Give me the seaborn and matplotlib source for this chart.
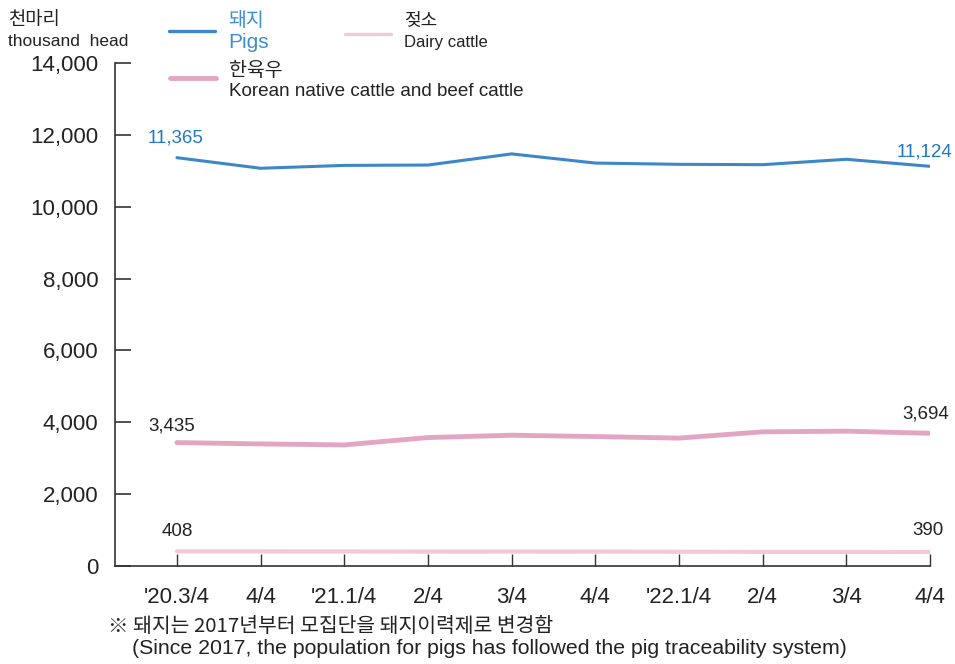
import numpy as np
import pandas as pd
import matplotlib
matplotlib.use("Agg")
import matplotlib.pyplot as plt
import seaborn as sns

# quarters and head counts (thousand head)
quarters = ["'20.3/4", "4/4", "'21.1/4", "2/4", "3/4", "4/4", "'22.1/4", "2/4", "3/4", "4/4"]
pigs = [11365, 11070, 11150, 11160, 11470, 11215, 11180, 11170, 11320, 11124]
hanwoo = [3435, 3398, 3370, 3575, 3640, 3603, 3560, 3734, 3753, 3694]
dairy = [408, 407, 405, 400, 401, 400, 398, 393, 392, 390]

pos = np.arange(len(quarters))
df = pd.DataFrame({"pos": pos, "pigs": pigs, "hanwoo": hanwoo, "dairy": dairy})

sns.set_style("white")
narrow = ["Liberation Sans Narrow", "Liberation Sans", "DejaVu Sans"]
kr = ["Noto Sans CJK KR", "DejaVu Sans"]
plt.rcParams["font.family"] = narrow

pig_c = "#3d87c8"
hanwoo_c = "#e3a6c2"
dairy_c = "#f2c9d8"
dark = "#222222"

fig = plt.figure(figsize=(9.55, 6.64), dpi=100)
ax = fig.add_axes([115 / 955, 98 / 664, 815 / 955, 503 / 664])

sns.lineplot(data=df, x="pos", y="pigs", ax=ax, color=pig_c, linewidth=2.2)
sns.lineplot(data=df, x="pos", y="hanwoo", ax=ax, color=hanwoo_c, linewidth=3.5)
sns.lineplot(data=df, x="pos", y="dairy", ax=ax, color=dairy_c, linewidth=3.0)

ax.set_xlim(-0.74, 9.0)
ax.set_ylim(0, 14000)
ax.set_xticks(pos)
ax.set_xticklabels(quarters)
ax.set_yticks(np.arange(0, 14001, 2000))
ax.set_yticklabels([f"{v:,}" for v in range(0, 14001, 2000)])
ax.set_xlabel("")
ax.set_ylabel("")
for s in ["top", "right"]:
    ax.spines[s].set_visible(False)
for s in ["left", "bottom"]:
    ax.spines[s].set_color("#333333")
    ax.spines[s].set_linewidth(1.2)
ax.tick_params(axis="x", bottom=True, direction="in", length=8.6, width=1, color="#333333",
               pad=15, labelsize=16, labelcolor=dark)
ax.tick_params(axis="y", left=True, direction="in", length=11.5, width=1.2, color="#333333",
               pad=12, labelsize=16, labelcolor=dark)
ax.grid(False)

# end labels
ax.annotate(f"{pigs[0]:,}", (pos[0], pigs[0]), xytext=(-1, 8), textcoords="offset points",
            ha="center", va="bottom", fontsize=13.5, color="#1f78c1")
ax.annotate(f"{pigs[-1]:,}", (pos[-1], pigs[-1]), xytext=(16, 4), textcoords="offset points",
            ha="right", va="bottom", fontsize=13.5, color="#1f78c1")
ax.annotate(f"{hanwoo[0]:,}", (pos[0], hanwoo[0]), xytext=(-4, 6), textcoords="offset points",
            ha="center", va="bottom", fontsize=13.5, color=dark)
ax.annotate(f"{hanwoo[-1]:,}", (pos[-1], hanwoo[-1]), xytext=(14, 8), textcoords="offset points",
            ha="right", va="bottom", fontsize=13.5, color=dark)
ax.annotate(f"{dairy[0]:,}", (pos[0], dairy[0]), xytext=(0, 8), textcoords="offset points",
            ha="center", va="bottom", fontsize=13.5, color=dark)
ax.annotate(f"{dairy[-1]:,}", (pos[-1], dairy[-1]), xytext=(10, 9), textcoords="offset points",
            ha="right", va="bottom", fontsize=13.5, color=dark)

# unit
fig.text(8 / 955, 1 - 19 / 664, "천마리", family=kr, fontsize=13.5, color=dark, va="center")
fig.text(8 / 955, 1 - 41 / 664, "thousand  head", fontsize=12.5, color=dark, va="center")

# legend drawn by hand
def leg(x0, y, c, lw, top, bottom, tc, sizes, ty):
    fig.add_artist(plt.Line2D([x0 / 955, (x0 + 46) / 955], [1 - y / 664, 1 - y / 664],
                              color=c, linewidth=lw, transform=fig.transFigure))
    fig.text((x0 + 59) / 955, 1 - ty[0] / 664, top, family=kr, fontsize=sizes[0],
             color=tc, va="center")
    fig.text((x0 + 59) / 955, 1 - ty[1] / 664, bottom, fontsize=sizes[1],
             color=tc, va="center")

leg(169, 31, pig_c, 2.4, "돼지", "Pigs", "#3d8fd1", (14, 15), (20, 42))
leg(345, 34, dairy_c, 2.4, "젖소", "Dairy cattle", dark, (13, 12), (20, 42))
leg(170, 78, hanwoo_c, 3.5, "한육우", "Korean native cattle and beef cattle", dark, (14, 13.6), (70, 91))

# footnote
fig.text(108 / 955, 1 - 627 / 664, "※ 돼지는 2017년부터 모집단을 돼지이력제로 변경함",
         family=kr, fontsize=14.7, color=dark, va="center")
fig.text(132 / 955, 1 - 648 / 664,
         "(Since 2017, the population for pigs has followed the pig traceability system)",
         fontsize=15.3, color=dark, va="center")

fig.savefig("out.png", dpi=100, facecolor="white")
